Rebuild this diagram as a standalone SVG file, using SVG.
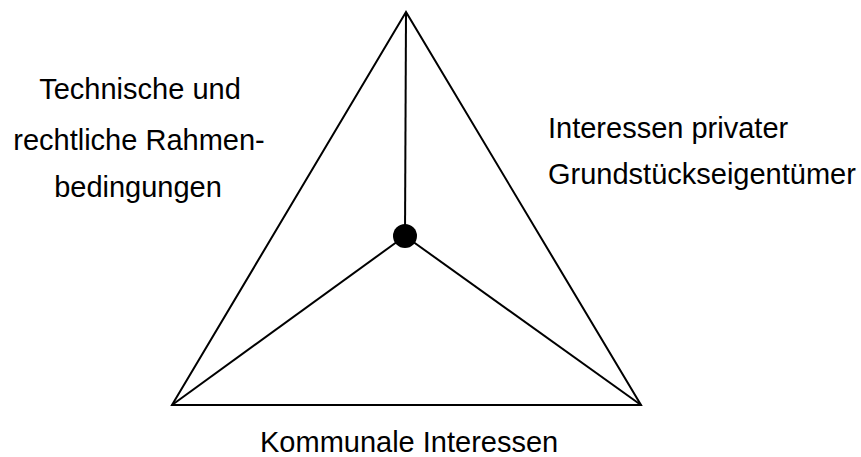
<svg xmlns="http://www.w3.org/2000/svg" width="861" height="457" viewBox="0 0 861 457">
<style>
.l{stroke:#000;stroke-width:2;fill:none;stroke-linejoin:miter}
.t{font-family:"Liberation Sans",Arial,sans-serif;font-size:29px;fill:#000}
</style>
<rect width="861" height="457" fill="#fff"/>
<g id="connectors">
<polygon class="l" points="406,12 172,405 641,405"/>
<line class="l" x1="406" y1="12" x2="405" y2="236"/>
<line class="l" x1="405" y1="236" x2="172" y2="405"/>
<line class="l" x1="405" y1="236" x2="641" y2="405"/>
</g>
<g id="center"><circle cx="405" cy="236" r="12" fill="#000"/></g>
<g id="label-left">
<text class="t" x="140" y="99" text-anchor="middle">Technische und</text>
<text class="t" x="139" y="150" text-anchor="middle">rechtliche Rahmen-</text>
<text class="t" x="138" y="197" text-anchor="middle">bedingungen</text>
</g>
<g id="label-right">
<text class="t" x="548" y="138">Interessen privater</text>
<text class="t" x="548" y="184">Grundstückseigentümer</text>
</g>
<g id="label-bottom">
<text class="t" x="260" y="452">Kommunale Interessen</text>
</g>
</svg>
